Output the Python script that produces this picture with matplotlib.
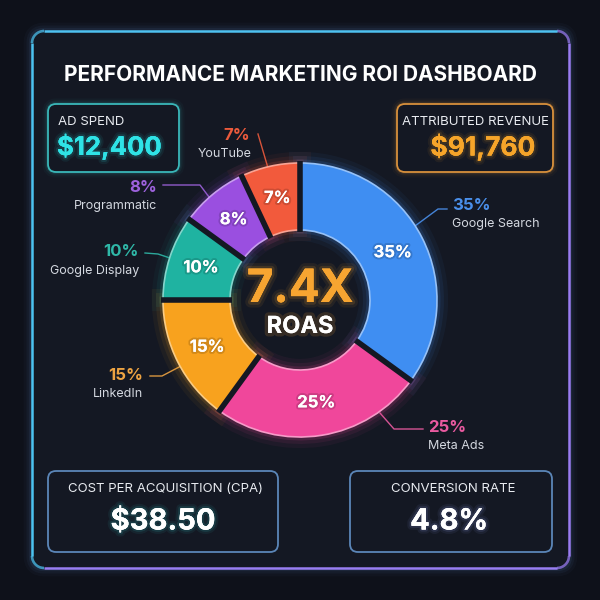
import numpy as np
import matplotlib.pyplot as plt
import matplotlib.patheffects as pe
from matplotlib.patches import FancyBboxPatch
from matplotlib.collections import LineCollection
from matplotlib.colors import to_rgb

plt.rcParams['font.family'] = ['Inter', 'DejaVu Sans']

# chart data
channels = ['Google Search', 'Meta Ads', 'LinkedIn', 'Google Display', 'Programmatic', 'YouTube']
shares = [35, 25, 15, 10, 8, 7]
colors = ['#3f8ef2', '#f0479b', '#f8a21e', '#1fb3a1', '#9a4fe0', '#f25a3c']
label_colors = ['#4a8fea', '#ea5aa0', '#eda342', '#2fb8a8', '#9d62dc', '#ec5a3c']

title = 'PERFORMANCE MARKETING ROI DASHBOARD'
ad_spend = 12400
revenue = 91760
cpa = 38.50
conv_rate = 4.8

# label placement (pixels, y down): (x, y, ha, sub dx)
label_pos = [(452, 205, 'left', 0), (428, 427, 'left', 0), (143, 375, 'right', 0),
             (139, 252, 'right', 0), (157, 187, 'right', 0), (237, 135, 'center', -12)]
leaders = [[(415, 226), (438, 209), (447, 209)],
           [(380, 413), (394, 429), (423, 429)],
           [(150, 376), (162, 376), (181, 366)],
           [(145, 253), (158, 254), (170, 258)],
           [(163, 185), (200, 185), (209, 197)],
           [(258, 134), (268, 168)]]

BG = '#0e111a'
PANEL = '#141823'

fig = plt.figure(figsize=(6, 6), dpi=100, facecolor=BG)
ax = fig.add_axes([0, 0, 1, 1])
ax.set_xlim(0, 600)
ax.set_ylim(600, 0)
ax.axis('off')


def glow_box(x0, y0, x1, y1, color, r=8, lw=1.3, face=PANEL, glow=True):
    if glow:
        for w, a in [(8, 0.04), (5, 0.07), (3, 0.1)]:
            ax.add_patch(FancyBboxPatch((x0, y0), x1 - x0, y1 - y0,
                                        boxstyle='round,pad=0,rounding_size=%d' % r,
                                        fc='none', ec=color, lw=w, alpha=a))
    ax.add_patch(FancyBboxPatch((x0, y0), x1 - x0, y1 - y0,
                                boxstyle='round,pad=0,rounding_size=%d' % r,
                                fc=face, ec=color, lw=lw))


def rrect_pts(x0, y0, x1, y1, r, n=40):
    pts = []
    corners = [(x1 - r, y0 + r, -90, 0), (x1 - r, y1 - r, 0, 90),
               (x0 + r, y1 - r, 90, 180), (x0 + r, y0 + r, 180, 270)]
    for cx, cy, a0, a1 in corners:
        t = np.radians(np.linspace(a0, a1, n))
        pts += list(zip(cx + r * np.cos(t), cy + r * np.sin(t)))
    pts.append(pts[0])
    return np.array(pts)


# outer frame: soft glow + gradient edge
fx0, fy0, fx1, fy1 = 32, 31, 569, 568
for w, a in [(12, 0.03), (8, 0.05), (4.5, 0.08)]:
    ax.add_patch(FancyBboxPatch((fx0, fy0), fx1 - fx0, fy1 - fy0,
                                boxstyle='round,pad=0,rounding_size=12',
                                fc='none', ec='#6fa6f2', lw=w, alpha=a))
ax.add_patch(FancyBboxPatch((fx0, fy0), fx1 - fx0, fy1 - fy0,
                            boxstyle='round,pad=0,rounding_size=12', fc=PANEL, ec='none'))
pts = rrect_pts(fx0, fy0, fx1, fy1, 12)
segs = np.stack([pts[:-1], pts[1:]], axis=1)
c1, c2 = np.array(to_rgb('#4cc3f0')), np.array(to_rgb('#9a7cf2'))
t = ((segs[:, 0, 0] - fx0) / (fx1 - fx0))[:, None]
ax.add_collection(LineCollection(segs, colors=c1 * (1 - t) + c2 * t, linewidths=1.8))

ax.text(300, 75, title, color='white', fontsize=15, fontweight='bold',
        ha='center', va='center')


def glow_text(x, y, s, color, size, glow_color=None, weight='bold', ha='center'):
    gc = glow_color or color
    ax.text(x, y, s, color=color, fontsize=size, fontweight=weight, ha=ha, va='center',
            path_effects=[pe.withStroke(linewidth=6, foreground=gc, alpha=0.07),
                          pe.withStroke(linewidth=3, foreground=gc, alpha=0.12),
                          pe.Normal()])


# KPI boxes
glow_box(48, 104, 179, 172, '#3ab7b9')
ax.text(58, 122, 'AD SPEND', color='#e8ebf0', fontsize=9.5, ha='left', va='center')
glow_text(57, 147, '${:,.0f}'.format(ad_spend), '#2fe3e6', 18.5, ha='left')

glow_box(397, 104, 553, 172, '#d8903c')
ax.text(475, 122, 'ATTRIBUTED REVENUE', color='#e8ebf0', fontsize=9.5, ha='center', va='center')
glow_text(483, 147, '${:,.0f}'.format(revenue), '#f6a52a', 19)

glow_box(48, 471, 278, 552, '#5b86b8', glow=False)
ax.text(166, 489, 'COST PER ACQUISITION (CPA)', color='#e8ebf0', fontsize=9.5,
        ha='center', va='center')
glow_text(163, 522, '${:.2f}'.format(cpa), 'white', 21, glow_color='#33d6d6')

glow_box(350, 471, 552, 552, '#5b86b8', glow=False)
ax.text(453, 489, 'CONVERSION RATE', color='#e8ebf0', fontsize=9.5, ha='center', va='center')
glow_text(449, 522, '{:.1f}%'.format(conv_rate), 'white', 21, glow_color='#9aa8ff')

# leader lines and outside labels
for i, name in enumerate(channels):
    xs, ys = zip(*leaders[i])
    ax.plot(xs, ys, color=label_colors[i], lw=1, alpha=0.9)
    x, y, ha, dx = label_pos[i]
    ax.text(x, y, '%d%%' % shares[i], color=label_colors[i], fontsize=12,
            fontweight='bold', ha=ha, va='center')
    ax.text(x + dx, y + 19, name, color='#d4d8e0', fontsize=9, ha=ha, va='center')

# donut (1 data unit = 1 pixel)
R_OUT, WIDTH = 137, 67
axp = fig.add_axes([0.25, 0.25, 0.5, 0.5])

for w, a in [(16, 0.05), (10, 0.08), (5, 0.14)]:
    glow_w, _ = axp.pie(shares, colors=colors, startangle=90, counterclock=False,
                        radius=R_OUT, wedgeprops=dict(width=WIDTH, lw=w, alpha=a))
    for wd, c in zip(glow_w, colors):
        wd.set_edgecolor(c)
        wd.set_facecolor('none')

wedges, texts, autotexts = axp.pie(shares, colors=colors, startangle=90, counterclock=False,
                                   radius=R_OUT, autopct='%d%%', pctdistance=0.76,
                                   wedgeprops=dict(width=WIDTH, lw=0),
                                   textprops=dict(color='white', fontsize=12, fontweight='bold'))
# lighter rim on each segment
for wd, c in zip(wedges, colors):
    rim = np.array(to_rgb(c)) * 0.55 + 0.45
    wd.set_edgecolor(rim)
    wd.set_linewidth(1.2)
for at in autotexts:
    at.set_path_effects([pe.withStroke(linewidth=3, foreground='black', alpha=0.15), pe.Normal()])

# dark gaps between segments
bounds = 90 - 360 * np.cumsum([0] + shares[:-1]) / sum(shares)
for b in np.radians(bounds):
    r = np.array([R_OUT - WIDTH - 1.5, R_OUT + 2])
    axp.plot(r * np.cos(b), r * np.sin(b), color=PANEL, lw=4, solid_capstyle='butt')

axp.text(0, 10, '{:.1f}X'.format(revenue / ad_spend), color='#f7a531', fontsize=33,
         fontweight='bold', ha='center', va='center',
         path_effects=[pe.withStroke(linewidth=8, foreground='#f7a531', alpha=0.08),
                       pe.withStroke(linewidth=4, foreground='#f7a531', alpha=0.14),
                       pe.Normal()])
axp.text(0, -27, 'ROAS', color='white', fontsize=17, fontweight='bold',
         ha='center', va='center',
         path_effects=[pe.withStroke(linewidth=5, foreground='#f7a531', alpha=0.15), pe.Normal()])

axp.set_xlim(-150, 150)
axp.set_ylim(-150, 150)
axp.set_aspect('equal')
axp.axis('off')

fig.savefig('out.png', dpi=100, facecolor=BG)
